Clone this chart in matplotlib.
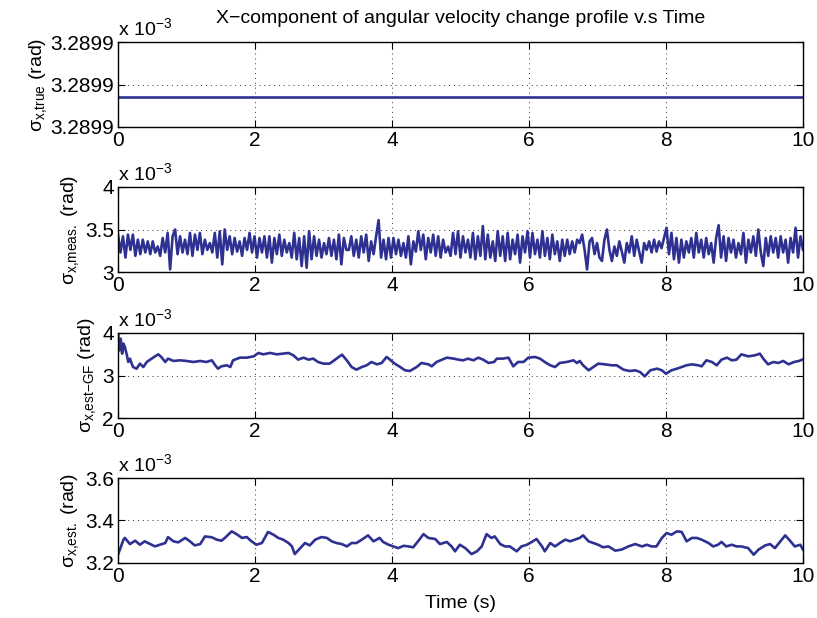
import numpy as np
import matplotlib
matplotlib.use("Agg")
import matplotlib.pyplot as plt
from matplotlib.ticker import FixedLocator, FormatStrFormatter

plt.rcParams['font.family'] = ['Liberation Sans', 'DejaVu Sans']
plt.rcParams['mathtext.fontset'] = 'custom'
plt.rcParams['mathtext.rm'] = 'Liberation Sans'
plt.rcParams['mathtext.it'] = 'Liberation Sans:italic'
plt.rcParams['mathtext.sf'] = 'Liberation Sans'

# ---------------- data (values in units of 1e-3 rad) ----------------
true_t = [0.0, 10.0]
true_v = [3.289914, 3.289914]

meas_v = [
    3.44, 3.23, 3.42, 3.17, 3.44, 3.26, 3.44, 3.19, 3.38, 3.21, 3.38, 3.23, 3.36, 3.21, 3.36, 3.23,
    3.30, 3.19, 3.40, 3.23, 3.46, 3.03, 3.42, 3.50, 3.21, 3.42, 3.23, 3.38, 3.21, 3.46, 3.19, 3.44,
    3.26, 3.46, 3.21, 3.38, 3.26, 3.34, 3.23, 3.46, 3.17, 3.48, 3.09, 3.50, 3.26, 3.42, 3.21, 3.40,
    3.24, 3.36, 3.19, 3.40, 3.26, 3.46, 3.23, 3.42, 3.17, 3.40, 3.23, 3.42, 3.17, 3.42, 3.11, 3.40,
    3.21, 3.44, 3.19, 3.38, 3.23, 3.34, 3.17, 3.46, 3.15, 3.40, 3.07, 3.42, 3.05, 3.48, 3.15, 3.42,
    3.19, 3.38, 3.17, 3.34, 3.21, 3.40, 3.19, 3.38, 3.15, 3.44, 3.09, 3.40, 3.26,
    3.26, 3.42, 3.19, 3.38, 3.17, 3.42, 3.23, 3.44, 3.13, 3.36, 3.21, 3.42, 3.61, 3.17, 3.38, 3.15,
    3.40, 3.17, 3.40, 3.21, 3.38, 3.19, 3.34, 3.17, 3.42, 3.09, 3.36, 3.24, 3.48, 3.26, 3.44, 3.15,
    3.40, 3.23, 3.44, 3.19, 3.42, 3.17, 3.38, 3.23, 3.30, 3.19, 3.46, 3.21, 3.48, 3.17, 3.42, 3.23,
    3.38, 3.17, 3.46, 3.15, 3.42, 3.19, 3.54, 3.15, 3.44, 3.17, 3.36, 3.13, 3.48, 3.19, 3.42, 3.13,
    3.46, 3.15, 3.38, 3.21, 3.44, 3.11, 3.42, 3.23, 3.48, 3.17, 3.46, 3.21, 3.38, 3.17, 3.48, 3.19,
    3.40, 3.15, 3.44, 3.21, 3.36, 3.13, 3.38, 3.19, 3.38, 3.21, 3.36, 3.23, 3.38,
    3.34, 3.44, 3.26, 3.03, 3.36, 3.40, 3.21, 3.34, 3.17, 3.13, 3.38, 3.50, 3.26, 3.13, 3.30, 3.19,
    3.36, 3.24, 3.11, 3.34, 3.23, 3.42, 3.19, 3.38, 3.24, 3.11, 3.34, 3.26, 3.36, 3.23, 3.38, 3.24,
    3.36, 3.28, 3.40, 3.52, 3.21, 3.46, 3.15, 3.40, 3.11, 3.38, 3.17, 3.36, 3.23, 3.40, 3.17, 3.46,
    3.23, 3.38, 3.17, 3.40, 3.21, 3.34, 3.11, 3.40, 3.55, 3.17, 3.42, 3.13, 3.40, 3.23, 3.38, 3.17,
    3.34, 3.21, 3.46, 3.11, 3.38, 3.23, 3.42, 3.19, 3.50, 3.23, 3.07, 3.40, 3.19, 3.42, 3.23, 3.40,
    3.17, 3.42, 3.23, 3.38, 3.11, 3.40, 3.23, 3.52, 3.17, 3.42, 3.26,
]
meas_t = np.linspace(0.0, 10.0, len(meas_v))

gf_t = [0.00, 0.005, 0.02, 0.04, 0.06, 0.08, 0.10, 0.13, 0.15, 0.175, 0.20, 0.22, 0.27, 0.32, 0.37,
        0.42, 0.47, 0.54, 0.59, 0.64, 0.69, 0.73, 0.81, 0.91, 1.00, 1.10, 1.20, 1.29, 1.37, 1.42,
        1.46, 1.51, 1.59, 1.64, 1.68, 1.78, 1.88, 1.98, 2.05, 2.12, 2.22, 2.32, 2.41, 2.49, 2.56,
        2.63, 2.71, 2.78, 2.85, 2.92, 3.00, 3.09, 3.19, 3.27, 3.34, 3.41, 3.48, 3.56, 3.63, 3.70,
        3.78, 3.85, 3.92, 3.97, 4.04, 4.12, 4.19, 4.26, 4.36, 4.43, 4.53, 4.58, 4.65, 4.73, 4.80,
        4.90, 4.97, 5.04, 5.11, 5.19, 5.26, 5.33, 5.41, 5.49, 5.53, 5.62, 5.70, 5.77, 5.84, 5.92,
        5.99, 6.09, 6.16, 6.23, 6.31, 6.38, 6.45, 6.55, 6.65, 6.70, 6.74, 6.79, 6.87, 6.94, 7.01,
        7.11, 7.21, 7.28, 7.38, 7.47, 7.55, 7.62, 7.69, 7.77, 7.87, 7.94, 8.00, 8.08, 8.16, 8.23,
        8.30, 8.38, 8.47, 8.52, 8.59, 8.67, 8.74, 8.81, 8.89, 8.96, 9.03, 9.10, 9.20, 9.30, 9.37,
        9.42, 9.49, 9.57, 9.64, 9.71, 9.79, 9.87, 9.94, 9.99]
gf_v = [3.98, 3.945, 3.59, 3.867, 3.514, 3.75, 3.67, 3.475, 3.318, 3.397, 3.279, 3.20, 3.16, 3.279, 3.20,
        3.318, 3.373, 3.451, 3.498, 3.42, 3.318, 3.397, 3.342, 3.357, 3.342, 3.318, 3.342, 3.318, 3.357, 3.24,
        3.161, 3.216, 3.24, 3.20, 3.357, 3.42, 3.42, 3.451, 3.53, 3.498, 3.53, 3.498, 3.514, 3.53, 3.475,
        3.373, 3.42, 3.373, 3.397, 3.318, 3.279, 3.279, 3.397, 3.491, 3.357, 3.20, 3.137, 3.20, 3.24, 3.318,
        3.263, 3.295, 3.436, 3.373, 3.279, 3.20, 3.122, 3.106, 3.20, 3.295, 3.263, 3.216, 3.318, 3.373, 3.42,
        3.397, 3.373, 3.357, 3.397, 3.357, 3.42, 3.373, 3.295, 3.318, 3.397, 3.397, 3.42, 3.216, 3.318, 3.318,
        3.42, 3.436, 3.397, 3.318, 3.24, 3.20, 3.295, 3.318, 3.357, 3.295, 3.342, 3.24, 3.122, 3.20, 3.279,
        3.263, 3.24, 3.24, 3.137, 3.106, 3.122, 3.083, 2.98, 3.122, 3.161, 3.122, 3.043, 3.122, 3.161, 3.20,
        3.24, 3.263, 3.24, 3.216, 3.357, 3.318, 3.24, 3.373, 3.42, 3.357, 3.373, 3.498, 3.451, 3.475, 3.514,
        3.397, 3.263, 3.318, 3.295, 3.342, 3.263, 3.318, 3.342, 3.373]

est_t = [0.00, 0.08, 0.10, 0.175, 0.25, 0.32, 0.39, 0.47, 0.54, 0.61, 0.69, 0.73, 0.81, 0.88, 0.98,
         1.05, 1.12, 1.20, 1.27, 1.37, 1.44, 1.51, 1.56, 1.66, 1.73, 1.81, 1.88, 1.95, 2.02, 2.10,
         2.19, 2.27, 2.34, 2.41, 2.49, 2.54, 2.58, 2.66, 2.73, 2.80, 2.88, 2.97, 3.05, 3.12, 3.19,
         3.27, 3.34, 3.41, 3.48, 3.56, 3.65, 3.73, 3.82, 3.87, 3.95, 4.02, 4.09, 4.17, 4.24, 4.31,
         4.38, 4.46, 4.53, 4.63, 4.70, 4.80, 4.87, 4.92, 4.99, 5.07, 5.16, 5.24, 5.31, 5.38, 5.45,
         5.50, 5.58, 5.65, 5.72, 5.82, 5.89, 5.97, 6.04, 6.11, 6.19, 6.23, 6.31, 6.38, 6.45, 6.53,
         6.60, 6.67, 6.74, 6.79, 6.87, 6.94, 7.01, 7.08, 7.16, 7.26, 7.35, 7.45, 7.55, 7.65, 7.72,
         7.79, 7.86, 7.94, 8.01, 8.08, 8.16, 8.23, 8.30, 8.38, 8.45, 8.52, 8.62, 8.69, 8.76, 8.81,
         8.88, 8.96, 9.03, 9.10, 9.20, 9.28, 9.35, 9.45, 9.52, 9.59, 9.67, 9.74, 9.81, 9.88, 9.96, 10.00]
est_v = [3.239, 3.310, 3.318, 3.289, 3.305, 3.286, 3.302, 3.289, 3.278, 3.286, 3.294, 3.322, 3.302, 3.297, 3.318,
         3.302, 3.283, 3.289, 3.325, 3.321, 3.310, 3.305, 3.318, 3.349, 3.336, 3.318, 3.322, 3.302, 3.286, 3.294,
         3.346, 3.333, 3.318, 3.310, 3.294, 3.278, 3.242, 3.270, 3.294, 3.283, 3.310, 3.322, 3.318, 3.302, 3.294,
         3.289, 3.278, 3.294, 3.294, 3.310, 3.330, 3.302, 3.318, 3.299, 3.286, 3.278, 3.270, 3.281, 3.278, 3.274,
         3.302, 3.336, 3.318, 3.313, 3.289, 3.299, 3.278, 3.255, 3.286, 3.270, 3.242, 3.255, 3.278, 3.336, 3.318,
         3.325, 3.289, 3.278, 3.278, 3.255, 3.278, 3.286, 3.299, 3.313, 3.278, 3.255, 3.294, 3.278, 3.294, 3.310,
         3.302, 3.310, 3.318, 3.330, 3.302, 3.294, 3.286, 3.274, 3.278, 3.258, 3.263, 3.278, 3.289, 3.278, 3.286,
         3.278, 3.278, 3.318, 3.341, 3.333, 3.349, 3.346, 3.302, 3.318, 3.318, 3.310, 3.294, 3.278, 3.286, 3.299,
         3.278, 3.286, 3.278, 3.278, 3.270, 3.239, 3.263, 3.283, 3.289, 3.270, 3.302, 3.330, 3.305, 3.278, 3.286, 3.263]

x_ticks = [0, 2, 4, 6, 8, 10]
title = "X\u2212component of angular velocity change profile v.s Time"
ylabels = ["\u03c3$_{\\mathrm{x{,}true}}$ (rad)", "\u03c3$_{\\mathrm{x{,}meas.}}$ (rad)",
           "\u03c3$_{\\mathrm{x{,}est{-}GF}}$ (rad)", "\u03c3$_{\\mathrm{x{,}est.}}$ (rad)"]
y_ticks = [[3.28990, 3.28992, 3.28994], [3.0, 3.5, 4.0], [2.0, 3.0, 4.0], [3.2, 3.4, 3.6]]
y_fmt = ["%.4f", "%g", "%g", "%g"]

series = [(true_t, true_v), (meas_t, meas_v), (gf_t, gf_v), (est_t, est_v)]

# ---------------- figure ----------------
fig = plt.figure(figsize=(8.17, 6.18), dpi=100)
W, H = 817, 618
left, right = 118, 803
tops = [42, 187, 333, 478]
ah = 85
line_color = "#2e3192"
fs_tick = 15
fs = 14

for i, ((tx, vy), yt) in enumerate(zip(series, y_ticks)):
    top = tops[i]
    ax = fig.add_axes([left / W, 1 - (top + ah) / H, (right - left) / W, ah / H])
    ax.plot(tx, vy, color=line_color, lw=1.9)
    ax.set_xlim(0, 10)
    ax.set_ylim(yt[0], yt[-1])
    ax.xaxis.set_major_locator(FixedLocator(x_ticks))
    ax.yaxis.set_major_locator(FixedLocator(yt))
    ax.yaxis.set_major_formatter(FormatStrFormatter(y_fmt[i]))
    ax.xaxis.set_major_formatter(FormatStrFormatter("%g"))
    ax.grid(True, linestyle=(0, (1, 4)), color="black", linewidth=0.7, alpha=0.8)
    ax.tick_params(direction="in", top=True, right=True, labelsize=fs_tick, length=5, width=0.8, pad=3)
    for s in ax.spines.values():
        s.set_linewidth(1.0)
    ax.set_ylabel(ylabels[i], fontsize=fs, labelpad=1 if i == 0 else 3)
    ax.text(0.0, 1.03, r"x 10$^{-3}$", transform=ax.transAxes, fontsize=fs, ha="left", va="bottom")
    if i == 0:
        ax.set_title(title, fontsize=fs, pad=14)
    if i == 3:
        ax.set_xlabel("Time (s)", fontsize=fs, labelpad=6)

fig.savefig("out.png", dpi=100)
